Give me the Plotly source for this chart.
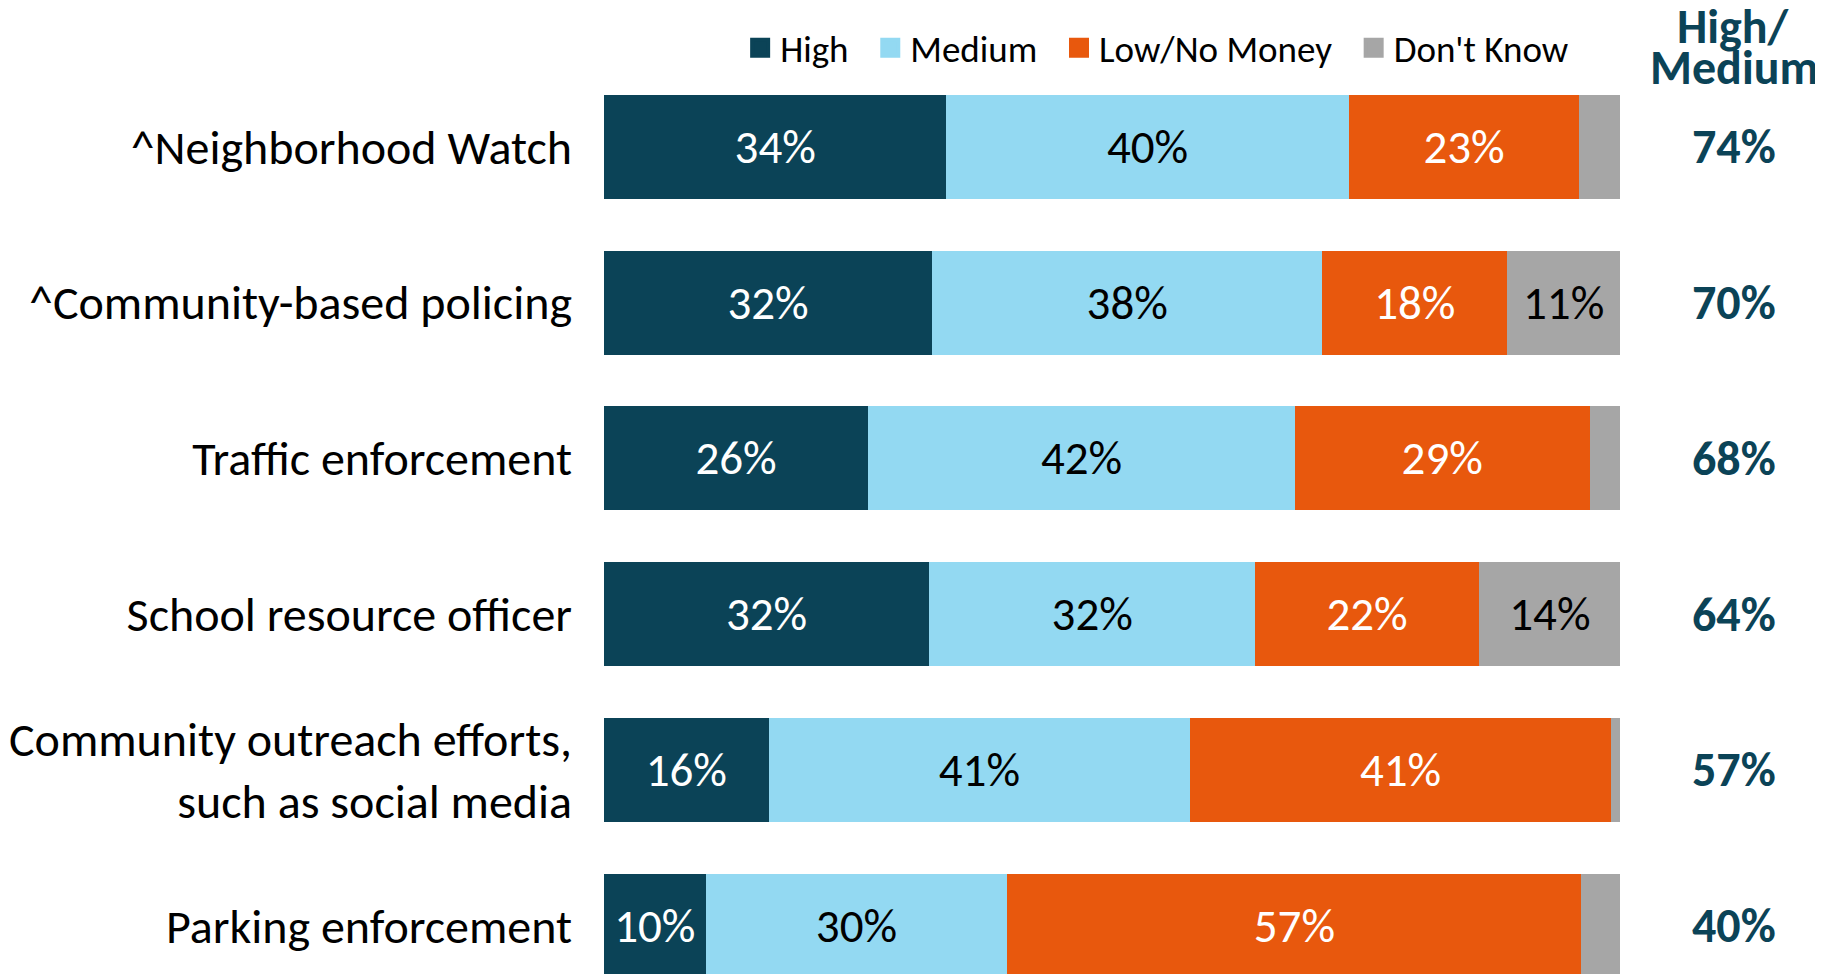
import plotly.graph_objects as go

# Data
categories = ['^Neighborhood Watch', '^Community-based policing', 'Traffic enforcement',
              'School resource officer', 'Community outreach efforts,<br>such as social media',
              'Parking enforcement']
high = [33.7, 32.3, 26.0, 32.0, 16.2, 10.0]
medium = [39.6, 38.4, 42.0, 32.1, 41.5, 29.7]
low_no_money = [22.7, 18.2, 29.0, 22.0, 41.4, 56.5]
dont_know = [4.0, 11.1, 3.0, 14.0, 1.0, 3.9]

high_lbl = ['34%', '32%', '26%', '32%', '16%', '10%']
medium_lbl = ['40%', '38%', '42%', '32%', '41%', '30%']
low_lbl = ['23%', '18%', '29%', '22%', '41%', '57%']
dk_lbl = ['', '11%', '', '14%', '', '']
high_medium = ['74%', '70%', '68%', '64%', '57%', '40%']

DARK = '#0B4357'
FONT = 'Calibri, Carlito, Lato, sans-serif'

series = [
    ('High', high, high_lbl, DARK, 'white'),
    ('Medium', medium, medium_lbl, '#93D9F2', 'black'),
    ('Low/No Money', low_no_money, low_lbl, '#E8580D', 'white'),
    ("Don't Know", dont_know, dk_lbl, '#A6A6A6', 'black'),
]

fig = go.Figure()
for name, vals, lbls, color, tcolor in series:
    fig.add_trace(go.Bar(
        y=categories, x=vals, name=name, orientation='h', legendgroup=name,
        marker=dict(color=color, line=dict(width=0)),
        text=lbls, textposition='inside', insidetextanchor='middle',
        textangle=0, constraintext='none',
        textfont=dict(color=tcolor, size=47, family=FONT),
        hoverinfo='skip', showlegend=False,
    ))
    # legend-only entry with a bigger square swatch
    fig.add_trace(go.Scatter(
        x=[None], y=[None], mode='markers', name=name + '\u00a0\u00a0', legendgroup=name,
        marker=dict(symbol='square', size=16, color=color, line=dict(width=4, color=color)),
        hoverinfo='skip',
    ))

# High/Medium column
for cat, v in zip(categories, high_medium):
    fig.add_annotation(x=1.112, y=cat, xref='paper', yref='y', text='<b>' + v + '</b>',
                       xanchor='center', yanchor='middle', showarrow=False,
                       font=dict(size=48, color=DARK, family=FONT))
fig.add_annotation(x=1.112, y=1.0465, xref='paper', yref='paper', text='<b>High/</b>',
                   xanchor='center', yanchor='middle', showarrow=False,
                   font=dict(size=48, color=DARK, family=FONT))
fig.add_annotation(x=1.112, y=1.002, xref='paper', yref='paper', text='<b>Medium</b>',
                   xanchor='center', yanchor='middle', showarrow=False,
                   font=dict(size=48, color=DARK, family=FONT))

# page body has an 8px margin, so the figure is a bit smaller than the window
fig.update_layout(
    barmode='stack', bargap=0.333,
    width=1815, height=966,
    margin=dict(l=596, r=203, t=61, b=0),
    plot_bgcolor='white', paper_bgcolor='white',
    font=dict(family=FONT, size=48, color='black'),
    showlegend=True,
    legend=dict(orientation='h', x=0.134, xanchor='left', y=1.023, yanchor='middle',
                font=dict(size=37, family=FONT), traceorder='normal', itemsizing='trace',
                bgcolor='rgba(0,0,0,0)'),
)
fig.update_xaxes(range=[0, 100], visible=False, fixedrange=True)
fig.update_yaxes(type='category', range=[5.31, -0.5], showgrid=False, zeroline=False,
                 showline=False, ticks='', ticklabelstandoff=31,
                 tickfont=dict(size=48, family=FONT, color='black'), fixedrange=True)

fig.write_html('out.html', config={'displayModeBar': False})
